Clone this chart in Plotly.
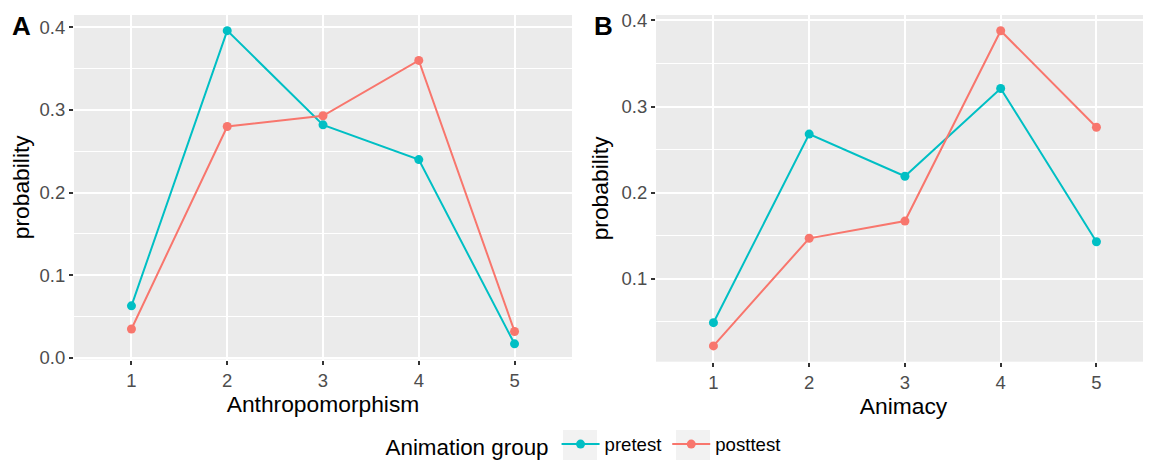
import plotly.graph_objects as go

levels = [1, 2, 3, 4, 5]
groups = ["pretest", "posttest"]
colors = {"pretest": "#00BFC4", "posttest": "#F8766D"}

anthro_pretest = [0.063, 0.396, 0.282, 0.240, 0.017]
anthro_posttest = [0.035, 0.280, 0.293, 0.360, 0.032]
animacy_pretest = [0.049, 0.268, 0.219, 0.321, 0.143]
animacy_posttest = [0.022, 0.147, 0.167, 0.388, 0.276]

FONT = "Liberation Sans, Arial, sans-serif"
OFF = 8  # page body margin
W, H = 1151 - OFF, 460 - OFF


def px(x):
    return (x - OFF) / W


def py(y):
    return 1 - (y - OFF) / H


fig = go.Figure()

panels = [
    ("x", "y", {"pretest": anthro_pretest, "posttest": anthro_posttest}, True),
    ("x2", "y2", {"pretest": animacy_pretest, "posttest": animacy_posttest}, False),
]
for xa, ya, data, show in panels:
    for g in groups:
        fig.add_trace(go.Scatter(
            x=levels, y=data[g], mode="lines+markers", name=g,
            line=dict(color=colors[g], width=2),
            marker=dict(color=colors[g], size=9),
            xaxis=xa, yaxis=ya, showlegend=show, legendgroup=g,
        ))


def yrange(vals):
    lo, hi = min(vals), max(vals)
    pad = (hi - lo) * 0.05
    return [lo - pad, hi + pad]


tickfont = dict(family=FONT, size=18.5, color="#4D4D4D")
titlefont = dict(family=FONT, size=22.8, color="black")

common_x = dict(
    tickvals=levels, ticktext=[str(v) for v in levels],
    showgrid=True, gridcolor="white", gridwidth=2,
    ticks="outside", ticklen=4, tickwidth=1.5, tickcolor="#333333",
    tickfont=tickfont, zeroline=False, showline=False, automargin=False,
    title_font=titlefont, title_standoff=4,
)
common_y = dict(
    dtick=0.1, tickformat=".1f",
    showgrid=True, gridcolor="white", gridwidth=2,
    minor=dict(dtick=0.05, showgrid=True, gridcolor="white", gridwidth=1, ticks=""),
    ticks="outside", ticklen=4, tickwidth=1.5, tickcolor="#333333",
    tickfont=tickfont, zeroline=False, showline=False, automargin=False,
    title_font=titlefont, title_standoff=6,
)

key_boxes = [(563, 597), (676, 710)]
shapes = [
    dict(type="rect", xref="paper", yref="paper", x0=px(a), x1=px(b),
         y0=py(464), y1=py(430), fillcolor="#F2F2F2", line=dict(width=0), layer="below")
    for a, b in key_boxes
]

fig.update_layout(
    width=W, height=H,
    margin=dict(l=0, r=0, t=0, b=0, autoexpand=False),
    paper_bgcolor="white", plot_bgcolor="#EBEBEB",
    font=dict(family=FONT, color="black"),
    xaxis=dict(common_x, domain=[px(74), px(572)], range=[0.4, 5.6],
               title_text="Anthropomorphism", anchor="y"),
    yaxis=dict(common_y, domain=[py(359.5), py(15)],
               range=yrange(anthro_pretest + anthro_posttest),
               title_text="probability", anchor="x"),
    xaxis2=dict(common_x, domain=[px(656), 1.0], range=[0.4, 5.57],
                title_text="Animacy", anchor="y2"),
    yaxis2=dict(common_y, domain=[py(361.7), py(15)],
                range=yrange(animacy_pretest + animacy_posttest),
                title_text="probability", anchor="x2"),
    legend=dict(
        orientation="h", x=px(585), xanchor="center", y=py(445.5), yanchor="middle",
        title=dict(text="Animation group", side="left", font=dict(family=FONT, size=22.4)),
        font=dict(family=FONT, size=18.6, color="black"),
        bgcolor="rgba(0,0,0,0)", itemwidth=38,
    ),
    shapes=shapes,
    annotations=[
        dict(text="<b>A</b>", x=px(21), y=py(26), xref="paper", yref="paper",
             xanchor="center", yanchor="middle",
             showarrow=False, font=dict(family=FONT, size=26, color="black")),
        dict(text="<b>B</b>", x=px(603), y=py(26), xref="paper", yref="paper",
             xanchor="center", yanchor="middle",
             showarrow=False, font=dict(family=FONT, size=26, color="black")),
    ],
)

fig.write_html("out.html")
